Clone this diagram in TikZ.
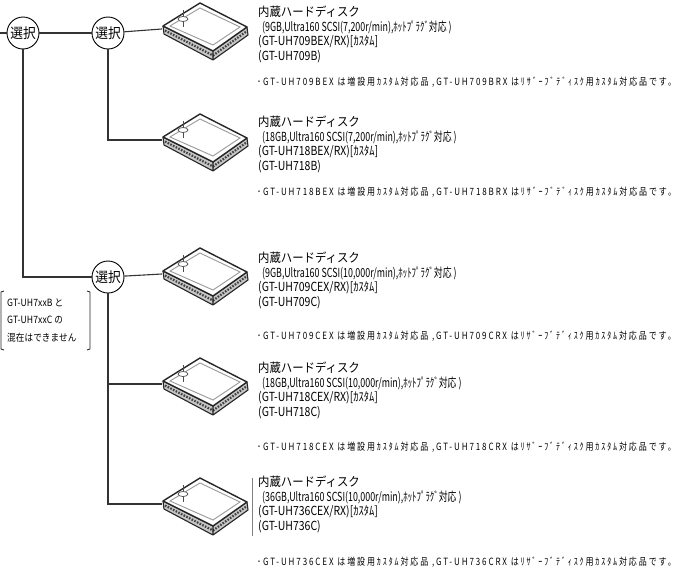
\documentclass[tikz,border=0pt]{standalone}
\usepackage{fontspec}
\setmainfont{Noto Sans CJK JP}[FakeStretch=0.84]
\newfontfamily\jpwide{Noto Sans CJK JP}[FakeStretch=0.91]
\newfontfamily\specfont{Noto Sans CJK JP}[FakeStretch=0.71]
\newfontfamily\notefont{Noto Sans CJK JP}[FakeStretch=0.8,LetterSpace=19]
\newfontfamily\boxfont{Noto Sans CJK JP}[FakeStretch=0.86,LetterSpace=1]
\begin{document}
\begin{tikzpicture}[x=1pt,y=-1pt,
  conn/.style={draw=black!80,line width=1.1pt},
  sel/.style={circle,draw=black,line width=0.9pt,fill=white,minimum size=32pt,inner sep=0pt,font=\jpwide\fontsize{14}{14}\selectfont},
  hddbox/.style={minimum width=86pt,minimum height=50pt,inner sep=0pt},
  txt/.style={anchor=west,inner sep=0pt,font=\fontsize{12.5}{13}\selectfont},
  ttl/.style={anchor=west,inner sep=0pt,font=\jpwide\fontsize{12.5}{13}\selectfont},
  spec/.style={anchor=west,inner sep=0pt,font=\specfont\fontsize{12.5}{13}\selectfont},
  ntxt/.style={anchor=west,inner sep=0pt,font=\notefont\fontsize{10}{11}\selectfont},
  btxt/.style={anchor=west,inner sep=0pt,font=\boxfont\fontsize{10}{11}\selectfont},
  hdd/.pic={
    \fill[black!22] (-42,-3) -- (8,22) -- (42,-2) -- (43,6) -- (8,31) -- (-41,5) -- cycle;
    \draw[black!75,line width=2.2pt,dash pattern=on 1.6pt off 1.4pt] (-40,1.5) -- (8,26.5) -- (42,2);
    \draw[black!85,line width=1.1pt,line join=round] (-42,-3) -- (8,22) -- (42,-2) (-42,-3) -- (-41,5) -- (8,31) -- (43,6) -- (42,-2) (8,22) -- (8,31);
    \filldraw[fill=white,draw=black!85,line width=1.4pt,line join=round] (-42,-3) -- (-5,-26) -- (42,-2) -- (8,22) -- cycle;
    \draw[black!40,line width=0.9pt] (-35,-3) -- (-5,-21) -- (35,-2) -- (8,16) -- cycle;
    \draw[black!70,line width=0.8pt] (-22,-19) -- (-22,-2);
    \filldraw[fill=white,draw=black!70,line width=0.7pt] (-22,-10) ellipse (5pt and 2.5pt);
  }]
\useasboundingbox (0,0) rectangle (680,576);

% selection circles
\node[sel] (c1) at (23,33) {選択};
\node[sel] (c2) at (108,33) {選択};
\node[sel] (c3) at (108,277) {選択};

% hdd icons
\node[hddbox] (h1) at (205,29) {}; \pic at (h1) {hdd};
\node[hddbox] (h2) at (205,140) {}; \pic at (h2) {hdd};
\node[hddbox] (h3) at (205,274) {}; \pic at (h3) {hdd};
\node[hddbox] (h4) at (205,384) {}; \pic at (h4) {hdd};
\node[hddbox] (h5) at (205,504) {}; \pic at (h5) {hdd};

% connectors
\coordinate (in) at (0,33);
\draw[conn] (in) -- (c1);
\draw[conn] (c1) -- (c2);
\draw[conn] (c2) -- (h1.west);
\draw[conn] (c2) |- (h2.west);
\draw[conn] (c1) |- (c3);
\draw[conn] (c3) -- (h3.west);
\draw[conn] (c3) |- (h4.west);
\draw[conn] (c3) |- (h5.west);

% note box
\draw[black!85,line width=0.9pt] (4,291) -- (1,292) -- (1,349) -- (4,350);
\draw[black!85,line width=0.9pt] (87,291) -- (90,292) -- (90,349) -- (87,350);
\node[btxt] (n1) at (7,303) {GT-UH7xxB と};
\node[btxt] (n2) at (7,320) {GT-UH7xxC の};
\node[btxt] (n3) at (7,338) {混在はできません};

% block 1
\node[ttl] (a1) at (258,12) {内蔵ハードディスク};
\node[spec] (a2) at (262,27) {(9GB,Ultra160 SCSI(7,200r/min),ﾎｯﾄﾌﾟﾗｸﾞ対応 )};
\node[txt] (a3) at (258,42) {(GT-UH709BEX/RX)[ｶｽﾀﾑ]};
\node[txt] (a4) at (258,57) {(GT-UH709B)};
\node[ntxt] (a5) at (257,82) {･GT-UH709BEX は増設用ｶｽﾀﾑ対応品 ,GT-UH709BRX はﾘｻﾞｰﾌﾞﾃﾞｨｽｸ用ｶｽﾀﾑ対応品です。};

% block 2
\node[ttl] (b1) at (258,122) {内蔵ハードディスク};
\node[spec] (b2) at (262,137) {(18GB,Ultra160 SCSI(7,200r/min),ﾎｯﾄﾌﾟﾗｸﾞ対応 )};
\node[txt] (b3) at (258,152) {(GT-UH718BEX/RX)[ｶｽﾀﾑ]};
\node[txt] (b4) at (258,167) {(GT-UH718B)};
\node[ntxt] (b5) at (257,192) {･GT-UH718BEX は増設用ｶｽﾀﾑ対応品 ,GT-UH718BRX はﾘｻﾞｰﾌﾞﾃﾞｨｽｸ用ｶｽﾀﾑ対応品です。};

% block 3
\node[ttl] (d1) at (258,258) {内蔵ハードディスク};
\node[spec] (d2) at (262,273) {(9GB,Ultra160 SCSI(10,000r/min),ﾎｯﾄﾌﾟﾗｸﾞ対応 )};
\node[txt] (d3) at (258,288) {(GT-UH709CEX/RX)[ｶｽﾀﾑ]};
\node[txt] (d4) at (258,303) {(GT-UH709C)};
\node[ntxt] (d5) at (257,336) {･GT-UH709CEX は増設用ｶｽﾀﾑ対応品 ,GT-UH709CRX はﾘｻﾞｰﾌﾞﾃﾞｨｽｸ用ｶｽﾀﾑ対応品です。};

% block 4
\node[ttl] (e1) at (258,368) {内蔵ハードディスク};
\node[spec] (e2) at (262,383) {(18GB,Ultra160 SCSI(10,000r/min),ﾎｯﾄﾌﾟﾗｸﾞ対応 )};
\node[txt] (e3) at (258,398) {(GT-UH718CEX/RX)[ｶｽﾀﾑ]};
\node[txt] (e4) at (258,413) {(GT-UH718C)};
\node[ntxt] (e5) at (257,447) {･GT-UH718CEX は増設用ｶｽﾀﾑ対応品 ,GT-UH718CRX はﾘｻﾞｰﾌﾞﾃﾞｨｽｸ用ｶｽﾀﾑ対応品です。};

% block 5
\draw[black!50,line width=0.8pt] (252,478) -- (252,536);
\node[ttl] (f1) at (258,482) {内蔵ハードディスク};
\node[spec] (f2) at (262,497) {(36GB,Ultra160 SCSI(10,000r/min),ﾎｯﾄﾌﾟﾗｸﾞ対応 )};
\node[txt] (f3) at (258,512) {(GT-UH736CEX/RX)[ｶｽﾀﾑ]};
\node[txt] (f4) at (258,527) {(GT-UH736C)};
\node[ntxt] (f5) at (257,562) {･GT-UH736CEX は増設用ｶｽﾀﾑ対応品 ,GT-UH736CRX はﾘｻﾞｰﾌﾞﾃﾞｨｽｸ用ｶｽﾀﾑ対応品です。};
\end{tikzpicture}
\end{document}
